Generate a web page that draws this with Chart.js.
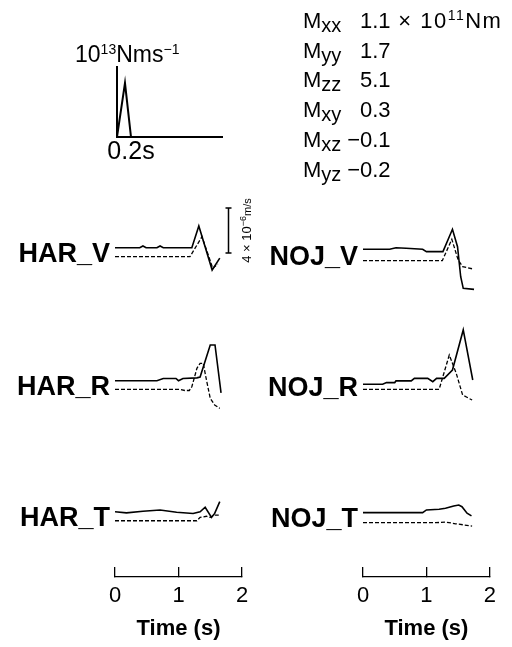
<!DOCTYPE html>
<html>
<head>
<meta charset="utf-8">
<script src="https://cdn.jsdelivr.net/npm/chart.js@4/dist/chart.umd.min.js"></script>
<style>
  html, body { margin: 0; padding: 0; background: #fff; }
  #page { position: relative; width: 512px; height: 647px; overflow: hidden;
          font-family: 'Liberation Sans', Arial, sans-serif; color: #000; }
  #page canvas { position: absolute; left: 0; top: 0; }
  .mt { position: absolute; left: 303px; font-size: 22px; line-height: 22px; white-space: nowrap; }
  .mt sub { font-size: 20px; vertical-align: -4px; line-height: 0; }
  .mt sup, #stfUnit sup { font-size: 14px; vertical-align: 8px; line-height: 0; }
  .mt .v { position: absolute; left: 57px; top: 0; }
  .mt .neg { position: absolute; right: 100%; top: 0; }
  .mt .unit { letter-spacing: 1.5px; }
  #stfUnit { position: absolute; left: 75px; top: 43px; font-size: 23px; line-height: 23px; white-space: nowrap; }
</style>
</head>
<body>
<div id="page">
  <canvas id="stf" width="512" height="647"></canvas>
  <canvas id="har" width="512" height="647"></canvas>
  <canvas id="noj" width="512" height="647"></canvas>
  <div id="stfUnit">10<sup>13</sup>Nms<sup>−1</sup></div>
  <div id="tensor"></div>
</div>
<script>
// source time function (10^13 Nm/s vs s)
const stfTime = [0, 0.114, 0.2];
const stfRate = [0, 0.77, 0];
const stfTicks = [0.2];

// moment tensor (10^11 Nm)
const tensorNames = ['xx', 'yy', 'zz', 'xy', 'xz', 'yz'];
const tensorValues = [1.1, 1.7, 5.1, 0.3, -0.1, -0.2];

const timeTicks = [0, 1, 2];

// velocity traces, 10^-6 m/s; Obs = observed (solid), Syn = synthetic (dashed)
const harVObsT = [0, 0.39, 0.44, 0.49, 0.66, 0.71, 0.76, 1.21, 1.32, 1.53, 1.65];
const harVObs  = [0, 0, 0.15, 0, 0, 0.15, 0, 0, 1.93, -1.98, -0.92];
const harVSynT = [0, 1.18, 1.37, 1.54, 1.62];
const harVSyn  = [0, 0, 1.78, -1.03, -0.65];

const harRObsT = [0, 0.66, 0.76, 0.96, 1.0, 1.07, 1.29, 1.34, 1.50, 1.575, 1.67];
const harRObs  = [0, 0, 0.2, 0.2, 0, 0.2, 0.25, 0.33, 3.17, 3.17, -1.09];
const harRSynT = [0, 1.02, 1.10, 1.17, 1.21, 1.29, 1.34, 1.39, 1.43, 1.50, 1.57, 1.65];
const harRSyn  = [0, 0, -0.1, -0.1, 0.23, 1.87, 2.31, 2.31, 1.12, -0.8, -1.39, -1.69];

const harTObsT = [0, 0.18, 0.44, 0.71, 0.97, 1.23, 1.34, 1.42, 1.52, 1.57, 1.65];
const harTObs  = [0, -0.1, 0.05, 0.15, -0.05, -0.15, 0, 0.4, -0.5, -0.15, 0.9];
const harTSynT = [0, 1.29, 1.34, 1.44, 1.50, 1.57, 1.65];
const harTSyn  = [0, 0, 0.3, 0.4, 0.3, 0.5, 0.5];

const nojVObsT = [0, 0.42, 0.52, 0.68, 0.94, 1.0, 1.26, 1.41, 1.49, 1.54, 1.58, 1.75];
const nojVObs  = [0, 0, 0.14, 0.09, 0, -0.21, -0.21, 1.78, 0.23, -2.44, -3.47, -3.56];
const nojVSynT = [0, 1.25, 1.40, 1.50, 1.57, 1.75];
const nojVSyn  = [0, 0, 1.9, 0.06, -0.53, -0.76];

const nojRObsT = [0, 0.31, 0.37, 0.50, 0.52, 0.76, 0.81, 1.02, 1.10, 1.16, 1.28, 1.41, 1.58, 1.73];
const nojRObs  = [0, 0, 0.15, 0.15, 0.3, 0.3, 0.53, 0.53, 0.23, 0.53, 0.53, 1.27, 4.83, 0.38];
const nojRSynT = [0, 1.20, 1.36, 1.47, 1.57, 1.72];
const nojRSyn  = [0, 0, 3.05, 1.42, -0.5, -0.95];

const nojTObsT = [0, 0.94, 1.0, 1.20, 1.30, 1.43, 1.51, 1.56, 1.64, 1.71];
const nojTObs  = [0, 0, 0.24, 0.3, 0.39, 0.59, 0.68, 0.53, -0.05, -0.29];
const nojTSynT = [0, 1.15, 1.30, 1.41, 1.46, 1.59, 1.72];
const nojTSyn  = [0, 0, 0.05, -0.05, -0.1, -0.2, -0.3];

const harNames = ['HAR_V', 'HAR_R', 'HAR_T'];
const nojNames = ['NOJ_V', 'NOJ_R', 'NOJ_T'];

// layout: where each trace sits on the y axis (obs, syn)
const harOffsets = [[-4.73, -5.53], [-16.55, -17.32], [-28.20, -29.0]];
const nojOffsets = [[-4.87, -5.88], [-16.87, -17.32], [-28.28, -29.17]];

const FONT = "'Liberation Sans', Arial, sans-serif";

// moment tensor text
var tensorHtml = '';
for (let i in tensorNames) {
    let v = tensorValues[i];
    let txt = (v < 0 ? '<span class="neg">−</span>' : '') + Math.abs(v).toFixed(1);
    if (i == 0) txt += '<span class="unit"> × 10<sup>11</sup>Nm</span>';
    tensorHtml += '<div class="mt" style="top:' + (9.7 + 29.8 * i) + 'px">M<sub>' + tensorNames[i] +
        '</sub><span class="v">' + txt + '</span></div>';
}
document.getElementById('tensor').innerHTML = tensorHtml;

function pts(ts, vs, off) {
    return ts.map((t, i) => ({ x: t, y: vs[i] + off }));
}

function traceSets(rows, offsets) {
    let sets = [];
    rows.forEach((r, i) => {
        sets.push({ data: pts(r[0], r[1], offsets[i][0]), borderColor: '#000', borderWidth: 1.6,
                    pointRadius: 0, tension: 0, fill: false });
        sets.push({ data: pts(r[2], r[3], offsets[i][1]), borderColor: '#000', borderWidth: 1.3,
                    borderDash: [4, 2], pointRadius: 0, tension: 0, fill: false });
    });
    return sets;
}

const stationLabels = {
    id: 'stationLabels',
    afterDatasetsDraw(chart, args, opts) {
        const ctx = chart.ctx;
        const area = chart.chartArea;
        const x = chart.scales.x, y = chart.scales.y;
        ctx.save();
        ctx.fillStyle = '#000';
        ctx.strokeStyle = '#000';
        ctx.font = 'bold 27px ' + FONT;
        ctx.textAlign = 'right';
        ctx.textBaseline = 'alphabetic';
        opts.names.forEach((name, i) => {
            let mid = (opts.offsets[i][0] + opts.offsets[i][1]) / 2;
            ctx.fillText(name, area.left - 5, y.getPixelForValue(mid) + 9.6);
        });
        if (opts.scaleBar) {
            const sb = opts.scaleBar;
            const bx = Math.round(x.getPixelForValue(sb.t)) + 0.5;
            const y1 = y.getPixelForValue(sb.top);
            const y2 = y.getPixelForValue(sb.top - sb.size);
            ctx.lineWidth = 1.5;
            ctx.beginPath();
            ctx.moveTo(bx, y1); ctx.lineTo(bx, y2);
            ctx.moveTo(bx - 3, y1); ctx.lineTo(bx + 3, y1);
            ctx.moveTo(bx - 3, y2); ctx.lineTo(bx + 3, y2);
            ctx.stroke();
            // rotated label 4x10^-6 m/s
            const parts = [['4 × 10', 13, 0], ['−6', 9, -5], ['m/s', 11, 0]];
            let w = 0;
            parts.forEach(p => { ctx.font = p[1] + 'px ' + FONT; w += ctx.measureText(p[0]).width; });
            ctx.translate(bx + 18.5, (y1 + y2) / 2);
            ctx.rotate(-Math.PI / 2);
            ctx.textAlign = 'left';
            ctx.textBaseline = 'middle';
            let cx = -w / 2;
            parts.forEach(p => {
                ctx.font = p[1] + 'px ' + FONT;
                ctx.fillText(p[0], cx, p[2] + 4 - p[1] * 0.3);
                cx += ctx.measureText(p[0]).width;
            });
        }
        ctx.restore();
    }
};

function panelChart(id, rows, offsets, names, left, right, scaleBar) {
    return new Chart(document.getElementById(id), {
        type: 'line',
        data: { datasets: traceSets(rows, offsets) },
        options: {
            responsive: false,
            animation: false,
            layout: { padding: { left: left, right: 512 - right, top: 194.5, bottom: 1.2 } },
            plugins: {
                legend: { display: false },
                tooltip: { enabled: false },
                stationLabels: { names: names, offsets: offsets, scaleBar: scaleBar }
            },
            scales: {
                x: {
                    type: 'linear', min: 0, max: 2, position: 'bottom',
                    afterBuildTicks: (axis) => { axis.ticks = timeTicks.map(v => ({ value: v })); },
                    // negative tick length: tick marks stand up from the axis line
                    grid: { display: true, drawOnChartArea: false, drawTicks: true, tickLength: -10,
                            color: '#000', lineWidth: 1.3 },
                    border: { display: true, color: '#000', width: 1.3 },
                    ticks: { padding: 16, color: '#000', maxRotation: 0, font: { size: 22, family: FONT } },
                    title: { display: true, text: 'Time (s)', color: '#000',
                             font: { size: 22, weight: 'bold', family: FONT }, padding: { top: -10, bottom: 4 } }
                },
                y: { display: false, min: -34, max: 0 }
            }
        },
        plugins: [stationLabels]
    });
}

panelChart('har', [[harVObsT, harVObs, harVSynT, harVSyn], [harRObsT, harRObs, harRSynT, harRSyn],
                   [harTObsT, harTObs, harTSynT, harTSyn]], harOffsets, harNames, 115, 242,
           { t: 1.78, top: -1.2, size: 4 });
panelChart('noj', [[nojVObsT, nojVObs, nojVSynT, nojVSyn], [nojRObsT, nojRObs, nojRSynT, nojRSyn],
                   [nojTObsT, nojTObs, nojTSynT, nojTSyn]], nojOffsets, nojNames, 363, 491, null);

// source time function
new Chart(document.getElementById('stf'), {
    type: 'line',
    data: { datasets: [{ data: stfTime.map((t, i) => ({ x: t, y: stfRate[i] })), borderColor: '#000',
                         borderWidth: 2, pointRadius: 0, tension: 0, fill: false }] },
    options: {
        responsive: false,
        animation: false,
        layout: { padding: { left: 117, right: 290, top: 67, bottom: 480 } },
        plugins: { legend: { display: false }, tooltip: { enabled: false } },
        scales: {
            x: {
                type: 'linear', min: 0, max: 1.5,
                afterBuildTicks: (axis) => { axis.ticks = stfTicks.map(v => ({ value: v })); },
                grid: { display: false, drawTicks: false },
                border: { display: true, color: '#000', width: 2 },
                ticks: { padding: 0, color: '#000', maxRotation: 0, font: { size: 25, family: FONT },
                         callback: (v) => v + 's' }
            },
            y: {
                min: 0, max: 1,
                grid: { display: false, drawTicks: false },
                border: { display: true, color: '#000', width: 2 },
                ticks: { display: false }
            }
        }
    }
});
</script>
</body>
</html>
